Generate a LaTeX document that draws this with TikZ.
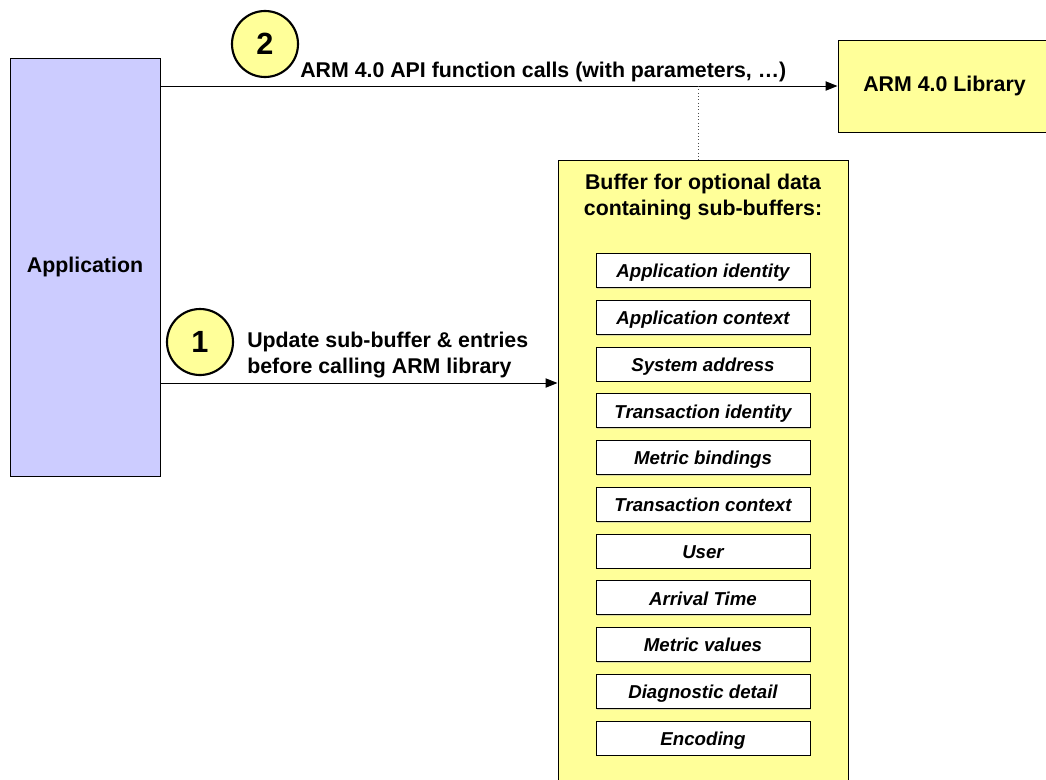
\documentclass[tikz,border=0pt]{standalone}
\usepackage{fontspec}
\setmainfont{Liberation Sans}
\usetikzlibrary{arrows.meta, shadows}

\definecolor{lavender}{HTML}{CCCCFF}
\definecolor{paleyellow}{HTML}{FFFF99}

\begin{document}
\begin{tikzpicture}[
    x=0.75pt, y=-0.75pt,
    every node/.style={font=\bfseries\fontsize{16}{20}\selectfont},
    boks/.style={rectangle, draw=black, line width=0.75pt,
        drop shadow={shadow xshift=1pt, shadow yshift=-1pt, fill=gray!60}},
    appboks/.style={boks, fill=lavender, minimum width=112.5pt,
        minimum height=313.5pt},
    libboks/.style={boks, fill=paleyellow, minimum width=159.75pt,
        minimum height=69pt},
    bufboks/.style={boks, fill=paleyellow, minimum width=217.5pt,
        minimum height=480pt},
    delboks/.style={boks, fill=white, minimum width=160.5pt,
        minimum height=25.5pt, inner sep=0pt,
        text height=11.2pt, text depth=0pt,
        font=\bfseries\itshape\fontsize{14}{17}\selectfont},
    nummer/.style={circle, draw=black, line width=1.6pt, fill=paleyellow,
        minimum size=49.5pt, inner sep=0pt,
        font=\bfseries\fontsize{23}{23}\selectfont},
    tekst/.style={inner sep=0pt, align=left},
    pil/.style={draw=black, line width=0.75pt,
        -{Triangle[length=9pt, width=7pt]}},
    prikk/.style={draw=black!70, line width=0.5pt, dotted}
    ]

\useasboundingbox (0,0) rectangle (1046,779);
\clip (0,0) rectangle (1046,779);

%boxes
\node[appboks] (app) at (85,267) {Application};
\node[libboks] (lib) at (944.5,86) {ARM 4.0 Library};
\node[bufboks] (buf) at (703,480) {};
\node[tekst, align=center] (buftitle) at (703,197)
    {Buffer for optional data\\containing sub-buffers:};

%sub-buffers
\foreach \navn [count=\i] in {Application identity, Application context,
    System address, Transaction identity, Metric bindings,
    Transaction context, User, Arrival Time, Metric values,
    Diagnostic detail, Encoding}
    \node[delboks] (sub\i) at (703,{270.5+(\i-1)*46.75}) {\navn};

%step 2: function calls
\coordinate (a2) at (app.east |- lib.west);
\coordinate (tap) at (698,86);
\draw[pil] (a2) -- (lib.west);
\draw[prikk] (tap) -- (tap |- buf.north);
\node[nummer] (n2) at (265,44) {2};
\node[tekst, anchor=base west] (l2) at (300,77)
    {ARM 4.0 API function calls (with parameters, …)};

%step 1: update buffer
\coordinate (a1) at (app.east |- 0,383);
\draw[pil] (a1) -- (a1 -| buf.west);
\node[nummer] (n1) at (200,342) {1};
\node[tekst, anchor=west] (l1) at (247,355)
    {Update sub-buffer \& entries\\before calling ARM library};
\end{tikzpicture}
\end{document}
